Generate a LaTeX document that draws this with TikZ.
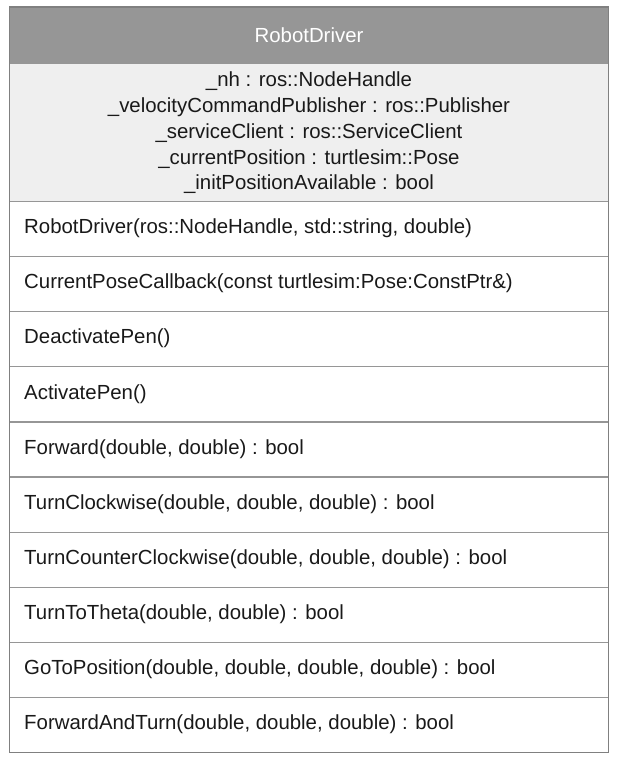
\documentclass[tikz,border=0pt]{standalone}
\usepackage{fontspec}
\setmainfont{Liberation Sans}

\definecolor{headgray}{RGB}{150,150,150}
\definecolor{attrgray}{RGB}{239,239,239}
\definecolor{framegray}{RGB}{128,128,128}
\definecolor{linegray}{RGB}{150,150,150}

\tikzset{
	umltext/.style={inner sep=0pt, font=\fontsize{20.4}{25.8}\selectfont, text=black!90},
	methodtext/.style={umltext, anchor=west},
}

\begin{document}
\begin{tikzpicture}[x=1pt,y=-1pt]
			\useasboundingbox (0,0) rectangle (616,762);
			
			% Define coordinates
			\coordinate (tl) at (9.5,7);
			\coordinate (br) at (608.5,752.5);
			
			% Draw header and attribute block
			\fill[headgray] (9.5,7) rectangle (608.5,63.5);
			\fill[attrgray] (9.5,63.5) rectangle (608.5,201.5);
			\draw[linegray, line width=1.2pt] (9.5,63.5) -- (608.5,63.5);
			
			% Draw method rows
			\foreach \i in {0,...,9} {
				\draw[linegray, line width=1.2pt] (9.5,201.5+55.1*\i) -- (608.5,201.5+55.1*\i);
			}
			
			% Draw outer frame
			\draw[framegray, line width=1.5pt] (tl) rectangle (br);
			
			% Add labels
			\node[umltext, text=white] (title) at (309,35) {RobotDriver};
			\node[umltext, align=center] (attrs) at (309,133) {\_nh : ros::NodeHandle\\
				\_velocityCommandPublisher : ros::Publisher\\
				\_serviceClient : ros::ServiceClient\\
				\_currentPosition : turtlesim::Pose\\
				\_initPositionAvailable : bool};
			\foreach \label [count=\i from 0] in {
				{RobotDriver(ros::NodeHandle, std::string, double)},
				{CurrentPoseCallback(const turtlesim:Pose:ConstPtr\&)},
				{DeactivatePen()},
				{ActivatePen()},
				{Forward(double, double) : bool},
				{TurnClockwise(double, double, double) : bool},
				{TurnCounterClockwise(double, double, double) : bool},
				{TurnToTheta(double, double) : bool},
				{GoToPosition(double, double, double, double) : bool},
				{ForwardAndTurn(double, double, double) : bool}} {
				\node[methodtext] (m\i) at (24,228.5+55.1*\i) {\label};
			}
		\end{tikzpicture}
\end{document}
